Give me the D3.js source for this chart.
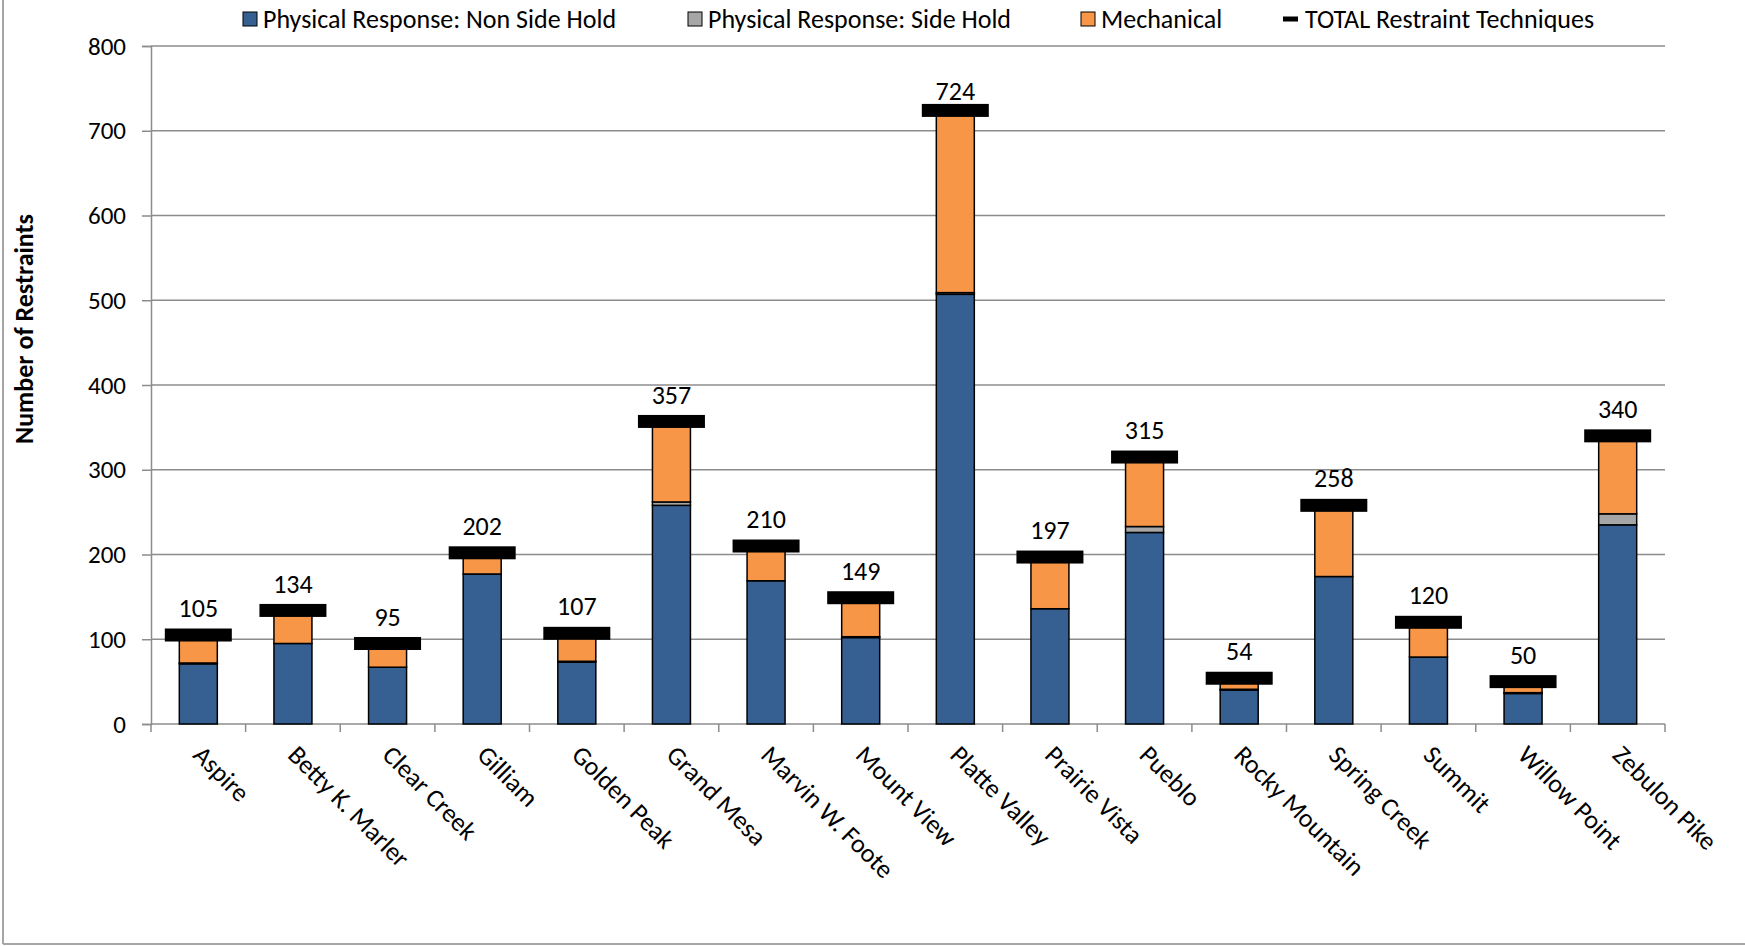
<!DOCTYPE html>
<html>
<head>
<meta charset="utf-8">
<script src="https://cdn.jsdelivr.net/npm/d3@7"></script>
<style>
body{margin:0;background:#fff;}
text{font-family:Carlito,"Liberation Sans Narrow","Noto Sans",sans-serif;}
</style>
</head>
<body>
<script>
const categories=["Aspire","Betty K. Marler","Clear Creek","Gilliam","Golden Peak","Grand Mesa","Marvin W. Foote","Mount View","Platte Valley","Prairie Vista","Pueblo","Rocky Mountain","Spring Creek","Summit","Willow Point","Zebulon Pike"];
const nonSideHold=[71,95,67,177,73,258,169,102,507,136,226,40,174,79,36,235];
const sideHold=[1,0,0,0,1,4,0,1,2,0,7,1,0,0,1,13];
const mechanical=[33,39,28,25,33,95,41,46,215,61,82,13,84,41,13,92];
const totals=[105,134,95,202,107,357,210,149,724,197,315,54,258,120,50,340];
const yTicks=[0,100,200,300,400,500,600,700,800];

const W=1745,H=946;
const m={left:151,right:80,top:46,bottom:222};

const svg=d3.select("body").append("svg")
    .attr("width",W)
    .attr("height",H);

// chart area border (left + bottom visible)
svg.append("line").attr("x1",3).attr("x2",3).attr("y1",0).attr("y2",H-2)
    .attr("stroke","#a6a6a6").attr("stroke-width",2);
svg.append("line").attr("x1",3).attr("x2",W).attr("y1",H-2).attr("y2",H-2)
    .attr("stroke","#a6a6a6").attr("stroke-width",2);

const x=d3.scaleBand().domain(categories).range([m.left,W-m.right]).paddingInner(0).paddingOuter(0);
const y=d3.scaleLinear().domain([0,800]).range([H-m.bottom,m.top]);

const g=svg.append("g");

// gridlines
g.selectAll("line.grid").data(yTicks.slice(1))
    .enter().append("line")
    .attr("class","grid")
    .attr("x1",m.left).attr("x2",W-m.right)
    .attr("y1",d=>y(d)).attr("y2",d=>y(d))
    .attr("stroke","#8c8c8c").attr("stroke-width",1.5);

// y axis
const yAx=g.append("g").attr("transform","translate("+m.left+",0)")
    .call(d3.axisLeft(y).tickValues(yTicks).tickSize(9).tickPadding(16).tickFormat(d3.format("d")));
yAx.select(".domain").attr("stroke","#8c8c8c").attr("stroke-width",1.5);
yAx.selectAll(".tick line").attr("stroke","#8c8c8c").attr("stroke-width",1.5);
yAx.selectAll(".tick text").attr("font-size",25).attr("fill","#000")
    .style("font-family",'Carlito,"Liberation Sans Narrow","Noto Sans",sans-serif');

// x axis: line + boundary ticks
g.append("line").attr("x1",m.left).attr("x2",W-m.right)
    .attr("y1",y(0)).attr("y2",y(0))
    .attr("stroke","#8c8c8c").attr("stroke-width",1.5);
const bounds=categories.map(c=>x(c)).concat([x(categories[categories.length-1])+x.bandwidth()]);
g.selectAll("line.xt").data(bounds).enter().append("line")
    .attr("x1",d=>d).attr("x2",d=>d)
    .attr("y1",y(0)).attr("y2",y(0)+8)
    .attr("stroke","#8c8c8c").attr("stroke-width",1.5);

// stacked bars
const rows=categories.map((c,i)=>({cat:c,a:nonSideHold[i],b:sideHold[i],c:mechanical[i]}));
const keys=["a","b","c"];
const colors={a:"#366092",b:"#a6a6a6",c:"#f79646"};
const series=d3.stack().keys(keys)(rows);
const bw=38;

g.selectAll("g.s").data(series).enter().append("g")
    .attr("fill",d=>colors[d.key])
    .selectAll("rect").data(d=>d).enter().append("rect")
    .attr("x",d=>x(d.data.cat)+x.bandwidth()/2-bw/2)
    .attr("width",bw)
    .attr("y",d=>y(d[1]))
    .attr("height",d=>y(d[0])-y(d[1]))
    .attr("stroke","#000").attr("stroke-width",1.5);

// totals markers
const mw=67,mh=13;
g.selectAll("rect.tot").data(totals).enter().append("rect")
    .attr("class","tot")
    .attr("x",(d,i)=>x(categories[i])+x.bandwidth()/2-mw/2)
    .attr("y",d=>y(d)-mh/2)
    .attr("width",mw).attr("height",mh)
    .attr("fill","#000");

g.selectAll("text.tl").data(totals).enter().append("text")
    .attr("class","tl")
    .attr("x",(d,i)=>x(categories[i])+x.bandwidth()/2)
    .attr("y",d=>Math.max(y(d)-27,m.top+45))
    .attr("dy","0.35em")
    .attr("text-anchor","middle")
    .attr("font-size",26)
    .text(d=>d);

// x labels
g.selectAll("text.xl").data(categories).enter().append("text")
    .attr("class","xl")
    .attr("transform",d=>"translate("+(x(d)+x.bandwidth()/2)+","+(y(0)+26)+") rotate(45)")
    .attr("font-size",26)
    .attr("dy","0.35em")
    .text(d=>d);

// y title
svg.append("text")
    .attr("transform","translate(24,"+((y(800)+y(0))/2-56)+") rotate(-90)")
    .attr("text-anchor","middle")
    .attr("dy","0.35em")
    .attr("font-size",26)
    .attr("font-weight","bold")
    .text("Number of Restraints");

// legend
const legend=[
    {name:"Physical Response: Non Side Hold",color:colors.a,x:243,type:"box"},
    {name:"Physical Response: Side Hold",color:colors.b,x:688,type:"box"},
    {name:"Mechanical",color:colors.c,x:1081,type:"box"},
    {name:"TOTAL Restraint Techniques",color:"#000",x:1283,type:"dash"}
];
const lg=svg.append("g").selectAll("g").data(legend).enter().append("g")
    .attr("transform",d=>"translate("+d.x+",19)");
lg.filter(d=>d.type=="box").append("rect")
    .attr("x",0).attr("y",-7).attr("width",14).attr("height",14)
    .attr("fill",d=>d.color).attr("stroke","#000").attr("stroke-width",1);
lg.filter(d=>d.type=="dash").append("rect")
    .attr("x",0).attr("y",-2.5).attr("width",15).attr("height",5)
    .attr("fill","#000");
lg.append("text")
    .attr("x",d=>d.type=="box"?20:22)
    .attr("dy","0.35em")
    .attr("font-size",26)
    .text(d=>d.name);
</script>
</body>
</html>
